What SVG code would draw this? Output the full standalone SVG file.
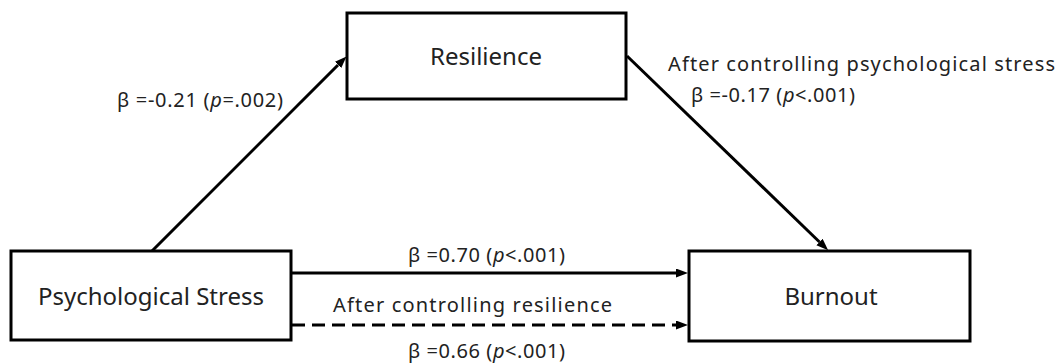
<svg xmlns="http://www.w3.org/2000/svg" width="1059" height="363" viewBox="0 0 1059 363">
<style>
.box{fill:#fff;stroke:#000;stroke-width:3}
.node{font-family:"Noto Sans","Open Sans",sans-serif;font-size:24px;fill:#222;text-anchor:middle}
.lab{font-family:"Noto Sans","Open Sans",sans-serif;font-size:20px;fill:#222}
.edge{stroke:#000;stroke-width:3;fill:none}
.dash{stroke-dasharray:13 7}
</style>
<defs>
<marker id="ah" markerUnits="userSpaceOnUse" markerWidth="12" markerHeight="10" refX="0" refY="4.5" orient="auto">
<path d="M0,0 L12,4.5 L0,9 z" fill="#000"/>
</marker>
</defs>
<g id="connectors">
<line class="edge" x1="152" y1="251" x2="338" y2="65" marker-end="url(#ah)"/>
<line class="edge" x1="627" y1="56" x2="819.5" y2="242" marker-end="url(#ah)"/>
<line class="edge" x1="292" y1="273" x2="676" y2="273" marker-end="url(#ah)"/>
<line class="edge dash" x1="292" y1="325" x2="676" y2="325" marker-end="url(#ah)"/>
</g>
<g id="resilience">
<rect class="box" x="347" y="13" width="279" height="86"/>
<text class="node" x="486" y="65">Resilience</text>
</g>
<g id="stress">
<rect class="box" x="11" y="251" width="280" height="89"/>
<text class="node" x="151" y="305">Psychological Stress</text>
</g>
<g id="burnout">
<rect class="box" x="689" y="251" width="281" height="90"/>
<text class="node" x="831" y="305">Burnout</text>
</g>
<g id="labels">
<text class="lab" x="117" y="107" textLength="166" lengthAdjust="spacing">β =-0.21 (<tspan font-style="italic">p</tspan>=.002)</text>
<text class="lab" x="668" y="71" textLength="387" lengthAdjust="spacing">After controlling psychological stress</text>
<text class="lab" x="691" y="102" textLength="164" lengthAdjust="spacing">β =-0.17 (<tspan font-style="italic">p</tspan>&lt;.001)</text>
<text class="lab" x="408" y="262" textLength="157" lengthAdjust="spacing">β =0.70 (<tspan font-style="italic">p</tspan>&lt;.001)</text>
<text class="lab" x="333" y="312" textLength="279" lengthAdjust="spacing">After controlling resilience</text>
<text class="lab" x="408" y="358" textLength="157" lengthAdjust="spacing">β =0.66 (<tspan font-style="italic">p</tspan>&lt;.001)</text>
</g>
</svg>
